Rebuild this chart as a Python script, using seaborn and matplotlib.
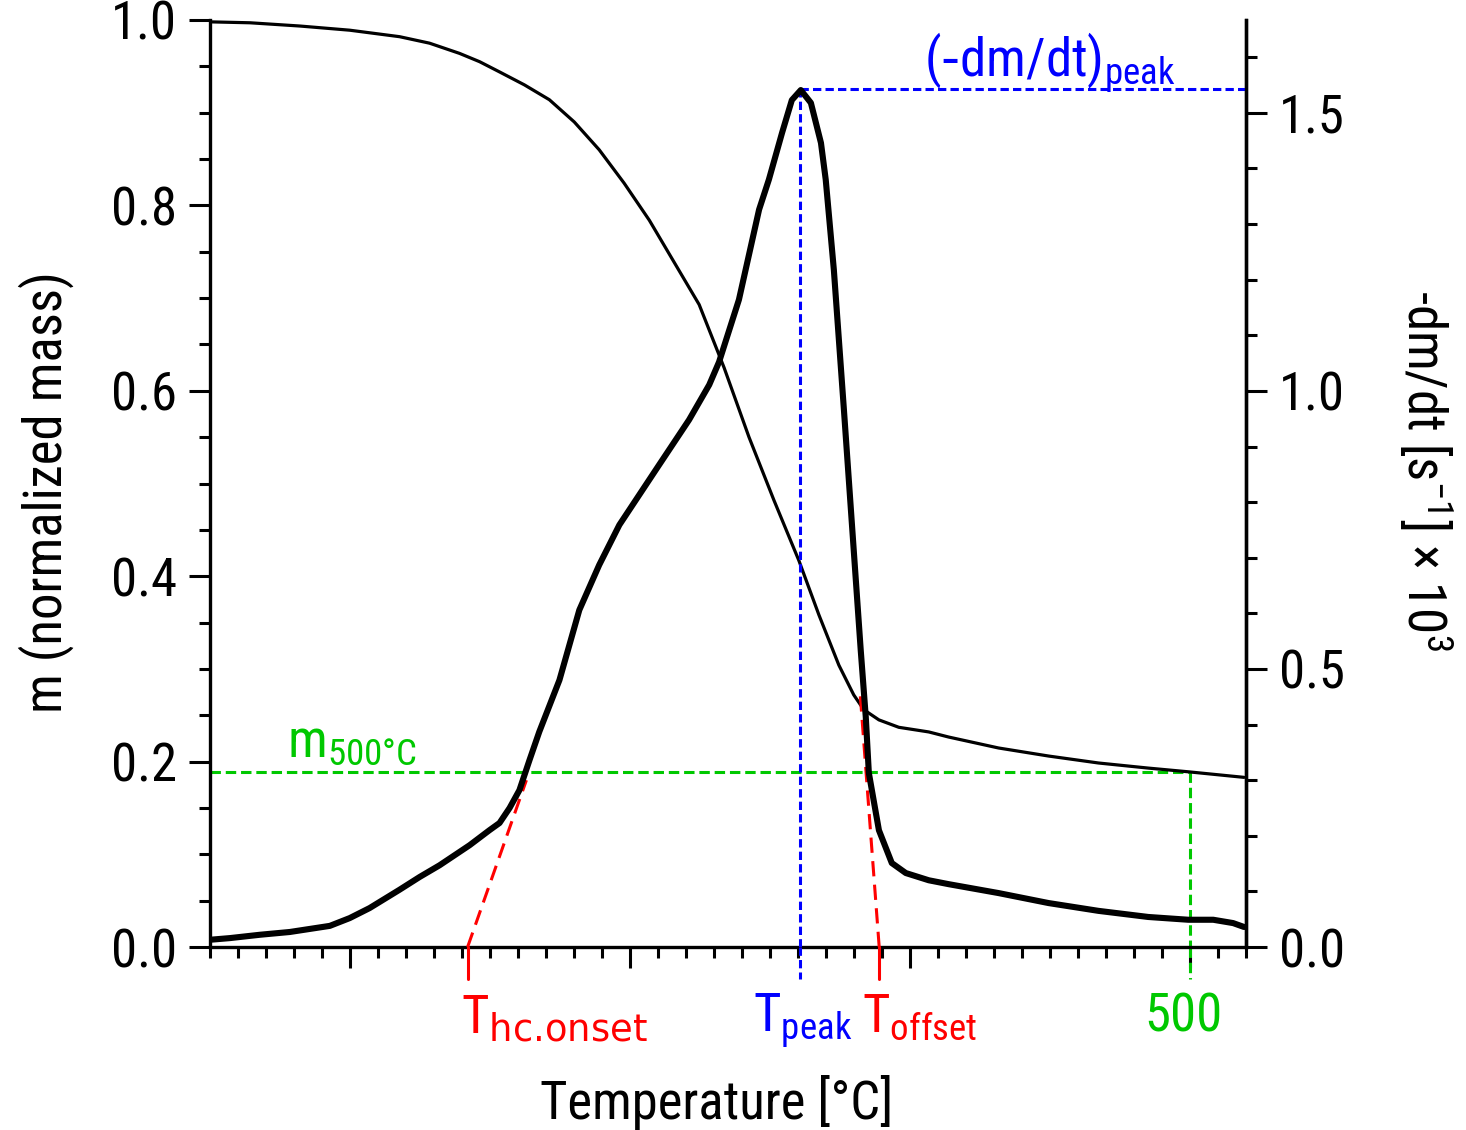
import matplotlib
matplotlib.use('Agg')
import matplotlib.pyplot as plt
import matplotlib.font_manager as fm
from matplotlib.ticker import MultipleLocator, NullFormatter, FormatStrFormatter
import seaborn as sns
import pandas as pd

# ---------------- data ----------------
temp_mass = [150.0, 164.3, 182.1, 199.9, 217.7, 228.4, 239.1, 246.3, 253.4,
             262.3, 271.2, 280.1, 289.0, 297.9, 306.9, 315.7, 324.7, 333.6,
             342.5, 351.4, 360.3, 367.5, 374.6, 379.9, 383.5, 388.9, 396.0,
             406.7, 413.8, 431.6, 449.5, 467.3, 485.1, 499.4, 519.3]
mass = [0.998, 0.997, 0.9935, 0.989, 0.982, 0.975, 0.964, 0.955, 0.944,
        0.930, 0.914, 0.890, 0.860, 0.824, 0.784, 0.739, 0.693, 0.625,
        0.550, 0.482, 0.417, 0.358, 0.304, 0.272, 0.256, 0.245, 0.237,
        0.232, 0.2265, 0.2147, 0.206, 0.1985, 0.193, 0.189, 0.183]

temp_rate = [150.0, 157.1, 167.8, 178.5, 192.8, 199.9, 207.0, 217.7, 224.9,
             232.0, 242.7, 249.8, 253.4, 257.0, 260.5, 264.1, 267.6, 274.8,
             281.9, 289.0, 296.2, 303.3, 310.4, 321.1, 328.3, 331.8, 338.9,
             342.5, 346.1, 349.6, 354.3, 357.8, 361.0, 364.6, 368.2, 369.9,
             372.8, 376.4, 379.9, 382.4, 384.2, 385.3, 388.9, 393.5, 398.5,
             406.7, 413.8, 431.6, 449.5, 467.3, 485.1, 499.4, 508.3, 515.4,
             519.3]
rate = [0.013, 0.016, 0.022, 0.027, 0.038, 0.052, 0.070, 0.103, 0.126,
        0.147, 0.183, 0.210, 0.223, 0.250, 0.282, 0.336, 0.387, 0.480,
        0.606, 0.687, 0.759, 0.813, 0.867, 0.948, 1.011, 1.052, 1.164,
        1.245, 1.326, 1.380, 1.464, 1.523, 1.541, 1.518, 1.446, 1.380,
        1.218, 0.966, 0.714, 0.534, 0.414, 0.313, 0.210, 0.151, 0.133,
        0.120, 0.113, 0.097, 0.079, 0.065, 0.054, 0.049, 0.049, 0.043,
        0.036]

T_onset = 242.0
T_peak = 360.8
T_offset = 389.0
T_500 = 500.0
m_500 = 0.189
rate_peak = 1.543
onset_tangent_T = [242.0, 263.0]
onset_tangent_rate = [0.0, 0.300]
offset_tangent_T = [389.0, 382.1]
offset_tangent_rate = [0.0, 0.462]

x_limits = [150, 520]
left_limits = [0.0, 1.0]
right_limits = [0.0, 1.667]

RED = '#ff0000'
BLUE = '#0000ff'
GREEN = '#00c800'

# ---------------- style ----------------
sns.set_style('ticks')

entries = fm.fontManager.ttflist
names = {f.name for f in entries}
chosen = None
stretch = 'normal'
for cand in ['Liberation Sans Narrow', 'Roboto Condensed', 'Noto Sans Condensed',
             'Open Sans Condensed', 'DejaVu Sans Condensed']:
    if cand in names:
        chosen = cand
        break
if chosen is None:
    for fam in ['DejaVu Sans', 'Noto Sans', 'Roboto', 'Open Sans', 'Inter']:
        if any(f.name == fam and 'condensed' in str(f.stretch) for f in entries):
            chosen = fam
            stretch = 'condensed'
            break
narrow = chosen is not None
if chosen is None:
    chosen = 'Liberation Sans' if 'Liberation Sans' in names else 'DejaVu Sans'

plt.rcParams['font.family'] = [chosen, 'DejaVu Sans']
plt.rcParams['font.stretch'] = stretch
plt.rcParams['mathtext.default'] = 'regular'
plt.rcParams['lines.scale_dashes'] = False
for key in ['text.color', 'axes.labelcolor', 'xtick.color', 'ytick.color', 'axes.edgecolor']:
    plt.rcParams[key] = 'black'

FS = 38 if narrow else 33

fig = plt.figure(figsize=(14.66, 11.30), dpi=100)
ax = fig.add_axes([210 / 1466, 1 - 947 / 1130, (1246 - 210) / 1466, (947 - 20) / 1130])
ax2 = ax.twinx()

df_mass = pd.DataFrame({'T': temp_mass, 'm': mass})
df_rate = pd.DataFrame({'T': temp_rate, 'r': rate})

sns.lineplot(data=df_mass, x='T', y='m', ax=ax, color='black', linewidth=2.3, zorder=5)
sns.lineplot(data=df_rate, x='T', y='r', ax=ax2, color='black', linewidth=4.4, zorder=5)

ax.set_xlim(*x_limits)
ax.set_ylim(*left_limits)
ax2.set_ylim(*right_limits)

# ---------------- annotation lines ----------------
dash_g = (0, (7.5, 3.5))
dash_b = (0, (6.0, 3.0))
dash_r = (0, (11.0, 6.0))
below = -0.034
xt = ax.get_xaxis_transform()
xt2 = ax2.get_xaxis_transform()

# green m500
ax.plot([x_limits[0], T_500], [m_500, m_500], color=GREEN, lw=2.2, ls=dash_g, zorder=2)
ax.plot([T_500, T_500], [m_500, 0], color=GREEN, lw=2.2, ls=dash_g, zorder=2)
ax.plot([T_500, T_500], [0, below], color=GREEN, lw=2.2, ls=dash_g, transform=xt,
        clip_on=False, zorder=2)

# blue peak
ax2.plot([T_peak, T_peak], [0, rate_peak], color=BLUE, lw=2.2, ls=dash_b, zorder=2)
ax2.plot([T_peak, x_limits[1]], [rate_peak, rate_peak], color=BLUE, lw=2.2, ls=dash_b, zorder=2)
ax2.plot([T_peak, T_peak], [0, below], color=BLUE, lw=2.2, ls=dash_b,
         transform=xt2, clip_on=False, zorder=2)

# red tangents
ax2.plot(onset_tangent_T, onset_tangent_rate, color=RED, lw=2.2, ls=dash_r, zorder=2)
ax2.plot(offset_tangent_T, offset_tangent_rate, color=RED, lw=2.2, ls=dash_r, zorder=2)
for tv in (T_onset, T_offset):
    ax2.plot([tv, tv], [0, below], color=RED, lw=2.2, ls='-',
             transform=xt2, clip_on=False, zorder=2)

# ---------------- texts ----------------
lab_y = (947 - 1032) / 927
ax.text(T_onset - 2.5, lab_y, r'$T_{\text{hc.onset}}$', color=RED, fontsize=FS,
        transform=xt, ha='left', va='baseline')
ax.text(T_peak - 17.0, lab_y, r'$T_{peak}$', color=BLUE, fontsize=FS, transform=xt,
        ha='left', va='baseline')
ax.text(T_offset - 6.0, lab_y, r'$T_{offset}$', color=RED, fontsize=FS, transform=xt,
        ha='left', va='baseline')
ax.text(T_500 - 2.5, lab_y, '500', color=GREEN, fontsize=FS, transform=xt,
        ha='center', va='baseline')
ax.text(177.5, 0.205, r'$m_{500°C}$', color=GREEN, fontsize=FS, ha='left', va='baseline')
ax2.text(404.9, 1.565, r'$(\text{-}dm/dt)_{peak}$', color=BLUE, fontsize=FS,
         ha='left', va='baseline')

# ---------------- axes ----------------
ax.xaxis.set_major_locator(MultipleLocator(100))
ax.xaxis.set_minor_locator(MultipleLocator(10))
ax.xaxis.set_major_formatter(NullFormatter())
ax.yaxis.set_major_locator(MultipleLocator(0.2))
ax.yaxis.set_minor_locator(MultipleLocator(0.05))
ax.yaxis.set_major_formatter(FormatStrFormatter('%.1f'))
ax2.yaxis.set_major_locator(MultipleLocator(0.5))
ax2.yaxis.set_minor_locator(MultipleLocator(0.1))
ax2.yaxis.set_major_formatter(FormatStrFormatter('%.1f'))

for a in (ax, ax2):
    a.tick_params(which='major', direction='out', length=15, width=2.2,
                  labelsize=FS, pad=9, color='black', labelcolor='black')
    a.tick_params(which='minor', direction='out', length=8, width=2.2, color='black')
    for s in a.spines.values():
        s.set_linewidth(2.4)
        s.set_color('black')
    a.spines['top'].set_visible(False)
ax2.spines['left'].set_visible(False)
ax2.spines['bottom'].set_visible(False)

ax.set_xlabel('Temperature [°C]', fontsize=FS, color='black')
ax.set_ylabel('m (normalized mass)', fontsize=FS, color='black')
ax2.set_ylabel(r'-dm/dt [s$^{-1}$] × 10$^{3}$', fontsize=FS, color='black')

ax.xaxis.set_label_coords((717 - 210) / 1036, (947 - 1102) / 927)
ax.xaxis.label.set_va('center')
ax.yaxis.set_label_coords((46 - 210) / 1036, (947 - 492) / 927)
ax.yaxis.label.set_rotation_mode('default')
ax.yaxis.label.set_va('center')
ax.yaxis.label.set_ha('center')
ax2.yaxis.set_label_coords((1425 - 210) / 1036, (947 - 470) / 927)
ax2.yaxis.label.set_rotation(270)
ax2.yaxis.label.set_rotation_mode('default')
ax2.yaxis.label.set_va('center')
ax2.yaxis.label.set_ha('center')

fig.savefig('out.png', dpi=100, facecolor='white')
